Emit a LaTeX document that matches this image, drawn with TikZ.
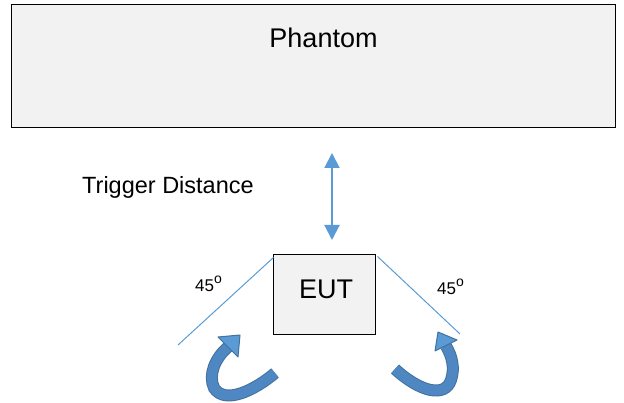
\documentclass[tikz,border=0pt]{standalone}
\usepackage{fontspec}
\setmainfont{Liberation Sans}
\usetikzlibrary{arrows.meta}
\definecolor{boxgray}{HTML}{F2F2F2}
\definecolor{lineblue}{HTML}{5B9BD5}
\definecolor{turnblue}{HTML}{4F87C2}
\definecolor{headblue}{HTML}{5B9BD5}
\definecolor{turnedge}{HTML}{41719C}
\tikzstyle{box}=[draw=black,fill=boxgray,line width=1pt,inner sep=0pt]
\tikzstyle{angleline}=[draw=lineblue,line width=1pt]
\tikzstyle{distarrow}=[{Triangle[width=15pt,length=15pt]}-{Triangle[width=15pt,length=15pt]},
                       draw=lineblue,fill=lineblue,line width=2pt]
\tikzstyle{turnout}=[draw=turnedge,line width=12pt]
\tikzstyle{turnin}=[draw=turnblue,line width=10pt]
\tikzstyle{turnhead}=[fill=headblue,draw=turnedge,line width=1pt,line join=round]
\tikzstyle{lbl}=[inner sep=0pt]
\newcommand{\degmark}{\raisebox{8.5pt}{\fontsize{14}{14}\selectfont o}}

\begin{document}
\begin{tikzpicture}[x=1pt,y=-1pt]
  \useasboundingbox (0,0) rectangle (624,403);

  \node[box,minimum width=604pt,minimum height=123pt] (phantom) at (313,66.5) {};
  \node[lbl,font=\fontsize{27}{30}\selectfont] (phantomtxt) at (323.5,38) {Phantom};

  \node[lbl,anchor=base west,font=\fontsize{23.5}{26}\selectfont] (trigger) at (82,194) {Trigger Distance};

  \node[box,minimum width=102pt,minimum height=80pt] (eut) at (324,295) {};
  \node[lbl,font=\fontsize{27}{30}\selectfont] (euttxt) at (326,289) {EUT};

  % trigger distance
  \coordinate (dtop) at (332,153);
  \coordinate (dbot) at (332,240);
  \draw[distarrow] (dtop) -- (dbot);

  % 45 degree lines
  \coordinate (lend) at (178,345);
  \coordinate (rend) at (460,334);
  \draw[angleline] ([shift={(1,3)}]eut.north west) -- (lend);
  \draw[angleline] ([shift={(2,2)}]eut.north east) -- (rend);
  \node[lbl,anchor=base west,font=\fontsize{17}{20}\selectfont] (lang) at (195,292) {45\degmark};
  \node[lbl,anchor=base west,font=\fontsize{17}{20}\selectfont] (rang) at (437,295) {45\degmark};

  % rotation arrows
  \draw[turnout] (275,373) .. controls (255,390) and (225,405) .. (214,388)
                          .. controls (208,375) and (215,358) .. (228,347);
  \draw[turnin]  (275,373) .. controls (255,390) and (225,405) .. (214,388)
                          .. controls (208,375) and (215,358) .. (228,347);
  \draw[turnhead] (218,337) -- (240,335) -- (238,357) -- cycle;

  \draw[turnout] (395,369) .. controls (420,392) and (445,398) .. (451,380)
                          .. controls (455,368) and (452,356) .. (446,346);
  \draw[turnin]  (395,369) .. controls (420,392) and (445,398) .. (451,380)
                          .. controls (455,368) and (452,356) .. (446,346);
  \draw[turnhead] (435,351) -- (438,332) -- (457,340) -- cycle;
\end{tikzpicture}
\end{document}
